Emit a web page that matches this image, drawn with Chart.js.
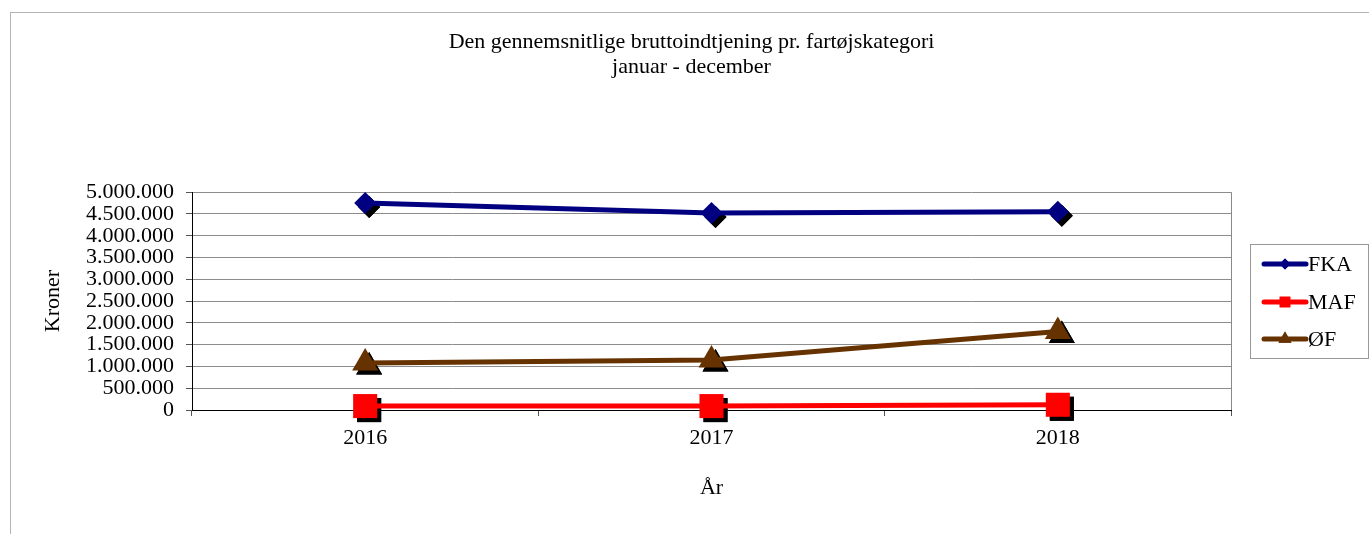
<!doctype html>
<html>
  <head>
    <meta charset="utf-8" />
    <script src="https://cdn.jsdelivr.net/npm/chart.js"></script>
    <style>
      html, body { margin: 0; padding: 0; background: #fff; }
      #wrap { width: 1369px; height: 534px; }
    </style>
    <title>Bruttoindtjening</title>
  </head>
  <body>
    <div id="wrap"><canvas id="drawhere"></canvas></div>
    <script>
      // data
      var years = ['2016', '2017', '2018'];
      var fkaData = [4750000, 4520000, 4550000];
      var mafData = [90000, 90000, 120000];
      var oefData = [1080000, 1150000, 1800000];
      var seriesNames = ['FKA', 'MAF', 'ØF'];
      var seriesColors = ['#000080', '#FF0000', '#663300'];
      var seriesMarkers = ['rectRot', 'rect', 'triangle'];
      var markerSizes = [11, 17, 15];
      var legendSizes = [5.5, 7.5, 7.5];

      var serif = '"Liberation Serif", "Times New Roman", serif';

      function kroner(v) {
        return String(v).replace(/\B(?=(\d{3})+(?!\d))/g, '.');
      }

      // frame, plot border, marker shadows and the boxed legend
      var decor = {
        id: 'decor',
        beforeDraw: function (chart) {
          var ctx = chart.ctx;
          ctx.save();
          ctx.strokeStyle = '#b4b4b4';
          ctx.lineWidth = 1;
          ctx.strokeRect(10.5, 12.5, 1400, 600);
          ctx.restore();
        },
        beforeDatasetsDraw: function (chart) {
          var ctx = chart.ctx, a = chart.chartArea;
          ctx.save();
          ctx.strokeStyle = '#888';
          ctx.lineWidth = 1;
          ctx.beginPath();
          ctx.moveTo(Math.round(a.right) + 0.5, a.top);
          ctx.lineTo(Math.round(a.right) + 0.5, a.bottom);
          ctx.stroke();
          ctx.fillStyle = '#000';
          chart.data.datasets.forEach(function (ds, i) {
            var meta = chart.getDatasetMeta(i);
            meta.data.forEach(function (pt) {
              Chart.helpers.drawPoint(ctx, {
                pointStyle: ds.pointStyle,
                radius: ds.pointRadius,
                rotation: 0,
                borderWidth: 0
              }, pt.x + 4, pt.y + 4);
              ctx.fill();
            });
          });
          ctx.restore();
        },
        afterDraw: function (chart) {
          var ctx = chart.ctx;
          ctx.save();
          ctx.strokeStyle = '#999';
          ctx.lineWidth = 1;
          ctx.strokeRect(1250.5, 244.5, 118, 114);
          var rowY = [264, 302, 339];
          chart.data.datasets.forEach(function (ds, i) {
            var y = rowY[i];
            ctx.strokeStyle = ds.borderColor;
            ctx.lineWidth = 5;
            ctx.lineCap = 'round';
            ctx.beginPath();
            ctx.moveTo(1264, y);
            ctx.lineTo(1306, y);
            ctx.stroke();
            ctx.fillStyle = ds.backgroundColor;
            Chart.helpers.drawPoint(ctx, {
              pointStyle: ds.pointStyle,
              radius: legendSizes[i],
              rotation: 0,
              borderWidth: 0
            }, 1285, y);
            ctx.fill();
            ctx.fillStyle = '#000';
            ctx.font = '22px ' + serif;
            ctx.textAlign = 'left';
            ctx.textBaseline = 'middle';
            ctx.fillText(ds.label, 1308, y + 1);
          });
          ctx.restore();
        }
      };

      var sets = [fkaData, mafData, oefData].map(function (d, i) {
        return {
          label: seriesNames[i],
          data: d,
          borderColor: seriesColors[i],
          backgroundColor: seriesColors[i],
          borderWidth: 5,
          pointStyle: seriesMarkers[i],
          pointRadius: markerSizes[i],
          pointHoverRadius: markerSizes[i],
          pointBorderWidth: 0,
          tension: 0,
          clip: false
        };
      });

      Chart.defaults.font.family = serif;
      Chart.defaults.color = '#000';

      var thechart = new Chart(document.getElementById('drawhere'), {
        type: 'line',
        data: { labels: years, datasets: sets },
        plugins: [decor],
        options: {
          responsive: true,
          maintainAspectRatio: false,
          animation: false,
          events: [],
          layout: { padding: { left: 14, right: 0, top: 0, bottom: 0 } },
          plugins: {
            legend: { display: false },
            tooltip: { enabled: false },
            title: {
              display: true,
              text: ['Den gennemsnitlige bruttoindtjening pr. fartøjskategori', 'januar - december'],
              color: '#000',
              font: { size: 22, weight: 'normal', lineHeight: 1.14 },
              padding: { top: 30, bottom: 112 }
            }
          },
          scales: {
            x: {
              offset: true,
              grid: {
                offset: true,
                drawOnChartArea: false,
                drawTicks: true,
                tickLength: 6,
                color: '#555'
              },
              border: { display: true, color: '#000', width: 1 },
              ticks: { font: { size: 22 }, padding: 9, maxRotation: 0 },
              title: {
                display: true,
                text: 'År',
                font: { size: 22 },
                padding: { top: 0, bottom: 33 }
              },
              afterFit: function (s) { s.height = 124; }
            },
            y: {
              min: 0,
              max: 5000000,
              grid: { color: '#8c8c8c', tickColor: '#555', tickLength: 6 },
              border: { display: true, color: '#000', width: 1 },
              ticks: {
                stepSize: 500000,
                autoSkip: false,
                font: { size: 22, lineHeight: 0.9 },
                padding: 12,
                callback: function (v) { return kroner(v); }
              },
              title: {
                display: true,
                text: 'Kroner',
                font: { size: 22 },
                padding: { top: 26, bottom: 0 }
              },
              afterFit: function (s) { s.width = 178; }
            },
            yR: {
              position: 'right',
              display: true,
              grid: { display: false },
              border: { display: false },
              ticks: { display: false },
              afterFit: function (s) { s.width = 138; }
            }
          }
        }
      });
    </script>
  </body>
</html>
